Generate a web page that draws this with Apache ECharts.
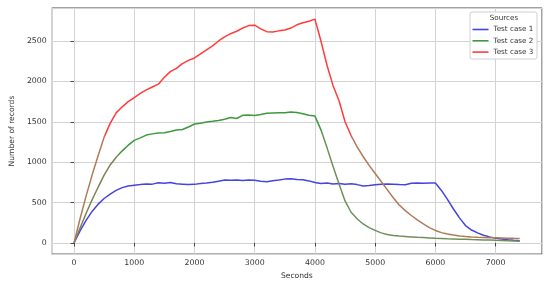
<!DOCTYPE html>
<html>
<head>
<meta charset="utf-8">
<script src="https://cdn.jsdelivr.net/npm/echarts@6/dist/echarts.min.js"></script>
<style>html,body{margin:0;padding:0;background:#fff}#c{width:550px;height:285px}</style>
</head>
<body>
<div id="c"></div>
<script>
const seconds = [0,100,200,300,400,500,600,700,800,900,1000,1100,1200,1300,1400,1500,1600,1700,1800,1900,2000,2100,2200,2300,2400,2500,2600,2700,2800,2900,3000,3100,3200,3300,3400,3500,3600,3700,3800,3900,4000,4100,4200,4300,4400,4500,4600,4700,4800,4900,5000,5100,5200,5300,5400,5500,5600,5700,5800,5900,6000,6100,6200,6300,6400,6500,6600,6700,6800,6900,7000,7100,7200,7300,7400];
const testCase1 = [0,150,280,390,480,550,605,650,685,705,715,722,730,728,745,740,748,732,728,722,725,735,742,752,765,778,775,780,772,778,775,765,758,770,778,790,795,785,782,768,748,735,742,730,736,728,732,722,705,712,720,728,730,726,722,720,738,742,738,742,742,650,540,420,310,215,160,125,95,75,58,48,40,33,28];
const testCase2 = [0,185,365,535,690,840,965,1060,1140,1210,1270,1300,1335,1350,1362,1365,1380,1398,1405,1435,1472,1482,1496,1505,1515,1530,1552,1540,1580,1585,1578,1590,1605,1608,1610,1612,1620,1615,1600,1580,1570,1400,1180,950,730,520,380,300,235,190,155,125,105,92,85,80,75,70,66,62,58,55,52,50,47,45,42,40,37,35,32,30,27,25,22];
const testCase3 = [0,300,580,840,1080,1310,1480,1610,1685,1750,1800,1850,1895,1930,1965,2050,2120,2160,2220,2260,2290,2340,2390,2440,2500,2550,2590,2620,2660,2690,2695,2650,2615,2610,2625,2635,2660,2700,2725,2745,2770,2500,2200,1950,1760,1500,1330,1190,1070,960,860,760,660,560,470,400,340,285,235,190,155,128,110,97,87,80,75,71,68,65,63,61,59,57,56];
const seriesNames = ['Test case 1','Test case 2','Test case 3'];
const legendTitle = 'Sources';
const xName = 'Seconds';
const yName = 'Number of records';

const FONT = 'DejaVu Sans';
const colors = ['#4545dd', '#3d993d', '#ff3b3b'];
const pair = (vals) => seconds.map((s, i) => [s, vals[i]]);
const plain = (v) => String(v);

const chart = echarts.init(document.getElementById('c'), null, {renderer: 'canvas'});
chart.setOption({
  animation: false,
  backgroundColor: '#fff',
  grid: {left: 42, right: 8, top: 8, bottom: 28, show: true, borderColor: '#444', borderWidth: 1, backgroundColor: 'transparent'},
  xAxis: {
    type: 'value', min: -370, max: 7770, splitNumber: 8,
    name: xName, nameLocation: 'middle', nameGap: 14,
    nameTextStyle: {fontFamily: FONT, fontSize: 7.6, color: '#333'},
    axisLine: {show: false},
    axisTick: {show: true, length: 3.5, lineStyle: {color: '#444'}},
    axisLabel: {fontFamily: FONT, fontSize: 7.8, color: '#333', margin: 5, showMinLabel: false, showMaxLabel: false, formatter: plain},
    splitLine: {show: true, lineStyle: {color: '#d3d3d3', width: 1}}
  },
  yAxis: {
    type: 'value', min: -138, max: 2908, splitNumber: 6,
    name: yName, nameLocation: 'middle', nameGap: 27,
    nameTextStyle: {fontFamily: FONT, fontSize: 7.6, color: '#333'},
    axisLine: {show: false},
    axisTick: {show: true, length: 3.5, lineStyle: {color: '#444'}},
    axisLabel: {fontFamily: FONT, fontSize: 7.8, color: '#333', margin: 5, showMinLabel: false, showMaxLabel: false, formatter: plain},
    splitLine: {show: true, lineStyle: {color: '#d3d3d3', width: 1}}
  },
  legend: {
    data: seriesNames, orient: 'vertical', left: 472.5, top: 24.5, padding: 0,
    icon: 'rect', itemWidth: 16, itemHeight: 1.6, itemGap: 1.3,
    textStyle: {fontFamily: FONT, fontSize: 7.2, color: '#333', lineHeight: 10},
    inactiveColor: '#ccc'
  },
  graphic: [
    {type: 'rect', z: 3, shape: {x: 470, y: 12, width: 67, height: 47, r: 2}, style: {fill: 'rgba(255,255,255,0.85)', stroke: '#d0d0d0', lineWidth: 1}},
    {type: 'text', z: 5, style: {text: legendTitle, x: 504, y: 18.5, fill: '#333', font: '7.2px "DejaVu Sans"', align: 'center', verticalAlign: 'middle'}}
  ],
  visualMap: [
    {show: false, type: 'piecewise', seriesIndex: 1, dimension: 0,
     pieces: [{lt: 750, color: '#7a8450'}, {gte: 750, lt: 4120, color: colors[1]}, {gte: 4120, color: '#6f8f5a'}]},
    {show: false, type: 'piecewise', seriesIndex: 2, dimension: 0,
     pieces: [{lt: 520, color: '#b07a58'}, {gte: 520, lt: 4620, color: colors[2]}, {gte: 4620, color: '#b07a58'}]}
  ],
  series: [
    {name: seriesNames[0], type: 'line', data: pair(testCase1), showSymbol: false, color: colors[0], lineStyle: {width: 1.5, color: colors[0]}, z: 2},
    {name: seriesNames[1], type: 'line', data: pair(testCase2), showSymbol: false, color: colors[1], lineStyle: {width: 1.5}, z: 2},
    {name: seriesNames[2], type: 'line', data: pair(testCase3), showSymbol: false, color: colors[2], lineStyle: {width: 1.5}, z: 2}
  ]
});
</script>
</body>
</html>
